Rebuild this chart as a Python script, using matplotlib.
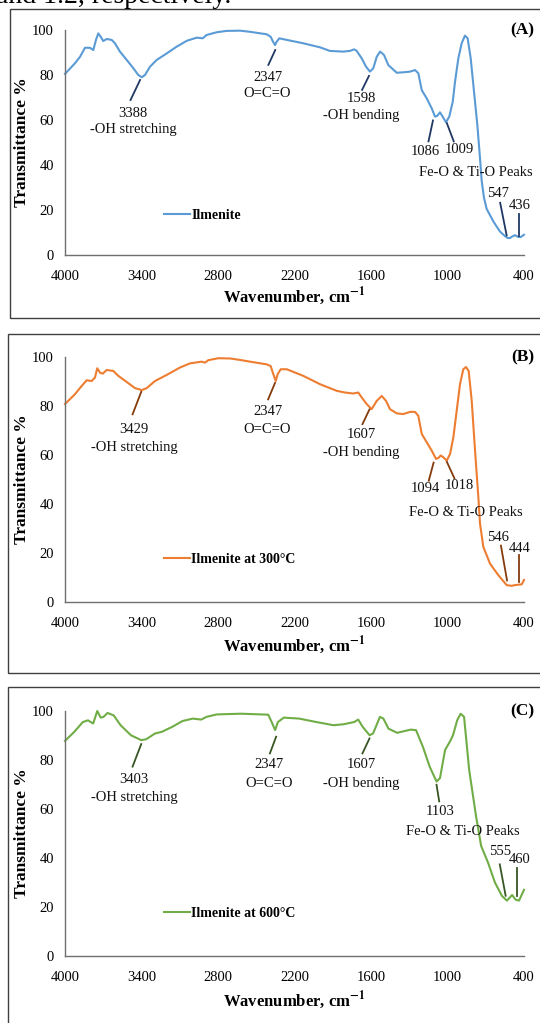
import matplotlib
matplotlib.use("Agg")
import matplotlib.pyplot as plt
from matplotlib.patches import Rectangle

plt.rcParams['font.family'] = ['Liberation Serif', 'DejaVu Serif']
plt.rcParams['mathtext.fontset'] = 'stix'

# ---------------- data ----------------
x_ticks = [4000, 3400, 2800, 2200, 1600, 1000, 400]
y_ticks = [0, 20, 40, 60, 80, 100]

wn_A = [4000, 3922, 3882, 3843, 3804, 3778, 3757, 3739, 3720, 3700, 3673, 3634, 3608,
        3569, 3516, 3464, 3425, 3398, 3373, 3333, 3281, 3202, 3124, 3045, 2967, 2920,
        2889, 2810, 2732, 2627, 2549, 2418, 2387, 2371, 2353, 2340, 2319, 2261, 2131,
        2000, 1922, 1817, 1765, 1733, 1712, 1673, 1639, 1608, 1582, 1555, 1529, 1498,
        1464, 1398, 1347, 1294, 1255, 1229, 1202, 1163, 1124, 1098, 1080, 1059, 1038,
        1012, 986, 959, 941, 915, 889, 863, 842, 818, 792, 766, 745, 732, 714, 693,
        660, 641, 614, 588, 549, 530, 510, 497, 471, 445, 425, 400]
t_A = [80.5, 85.2, 88.1, 92.1, 92.1, 91.1, 95.6, 98.5, 97.0, 95.1, 96.0, 95.6, 94.1,
       90.4, 86.7, 83.0, 80.0, 79.0, 80.0, 83.7, 86.7, 89.6, 92.6, 95.2, 96.6, 96.3,
       97.8, 99.0, 99.6, 99.7, 99.2, 98.1, 97.0, 95.1, 93.3, 94.8, 96.3, 95.6, 94.1,
       92.3, 90.7, 90.4, 90.7, 91.4, 90.7, 87.4, 83.7, 81.5, 83.0, 88.1, 90.4, 88.9,
       84.4, 81.0, 81.2, 81.5, 82.2, 80.8, 73.3, 69.6, 65.2, 61.5, 61.9, 63.4, 61.5,
       59.0, 61.5, 68.1, 77.0, 87.4, 94.1, 97.5, 96.3, 87.4, 72.6, 57.8, 43.0, 33.0,
       25.5, 20.5, 17.0, 15.0, 12.6, 10.4, 8.4, 7.6, 7.5, 8.1, 8.8, 8.0, 8.0, 9.0]

wn_B = [4000, 3922, 3869, 3830, 3791, 3765, 3747, 3725, 3704, 3673, 3621, 3582, 3516,
        3451, 3398, 3359, 3294, 3202, 3098, 3020, 2928, 2902, 2876, 2798, 2706, 2627,
        2549, 2418, 2387, 2366, 2347, 2332, 2308, 2261, 2131, 2000, 1869, 1804, 1739,
        1700, 1673, 1634, 1595, 1555, 1516, 1482, 1451, 1398, 1347, 1294, 1255, 1229,
        1202, 1163, 1124, 1090, 1072, 1053, 1033, 1006, 980, 954, 928, 902, 876, 855,
        834, 810, 784, 758, 745, 719, 667, 602, 536, 497, 471, 418, 400]
t_B = [80.8, 84.8, 88.2, 90.5, 90.2, 91.6, 95.4, 93.6, 93.2, 94.7, 94.3, 92.3, 89.8,
       87.3, 86.5, 87.3, 90.2, 92.7, 95.7, 97.4, 98.1, 97.7, 98.7, 99.5, 99.4, 98.8,
       98.1, 97.0, 96.3, 93.0, 90.2, 93.0, 95.0, 95.0, 92.3, 88.9, 86.2, 85.5, 85.1,
       85.5, 83.5, 80.8, 78.7, 82.1, 84.1, 82.1, 78.7, 77.0, 76.7, 77.6, 77.6, 76.0,
       68.6, 65.2, 61.8, 58.4, 58.8, 59.8, 59.1, 57.7, 60.4, 67.2, 78.0, 88.9, 95.0,
       95.9, 94.3, 82.1, 61.8, 42.8, 32.0, 22.5, 15.7, 11.0, 6.9, 6.6, 6.9, 7.2, 9.0]

wn_C = [4000, 3927, 3860, 3820, 3779, 3747, 3720, 3698, 3666, 3618, 3564, 3483, 3402,
        3362, 3295, 3241, 3160, 3079, 2998, 2931, 2891, 2810, 2621, 2406, 2379, 2352,
        2330, 2284, 2163, 2029, 1894, 1813, 1732, 1700, 1665, 1611, 1584, 1530, 1503,
        1463, 1395, 1288, 1247, 1193, 1140, 1086, 1059, 1019, 978, 957, 924, 897, 870,
        830, 776, 736, 682, 628, 574, 534, 493, 466, 439, 400]
t_C = [87.8, 91.5, 95.5, 96.2, 94.9, 100.0, 97.3, 97.6, 99.2, 98.2, 94.2, 90.1, 88.1,
       88.5, 90.8, 91.5, 93.5, 95.9, 96.9, 96.5, 97.6, 98.6, 98.9, 98.5, 95.5, 92.2,
       95.5, 97.3, 96.9, 95.5, 94.2, 94.6, 95.5, 96.5, 93.5, 90.1, 90.8, 97.6, 96.9,
       92.8, 91.1, 92.4, 92.2, 85.4, 77.3, 71.2, 72.6, 84.1, 87.8, 90.1, 96.2, 98.9,
       97.6, 75.9, 57.0, 44.9, 38.1, 30.0, 24.6, 22.6, 24.9, 23.0, 22.6, 27.0]

series_names = ["Ilmenite", "Ilmenite at 300\u00b0C", "Ilmenite at 600\u00b0C"]
panel_tags = ["(A)", "(B)", "(C)"]
peak_labels_A = ["3388", "2347", "1598", "1086", "1009", "547", "436"]
peak_labels_B = ["3429", "2347", "1607", "1094", "1018", "546", "444"]
peak_labels_C = ["3403", "2347", "1607", "1103", "555", "460"]
group_labels = ["-OH stretching", "O=C=O", "-OH bending", "Fe-O & Ti-O Peaks"]

line_colors = ["#5B9BD5", "#ED7D31", "#70AD47"]
mark_colors = ["#1F3864", "#843C0C", "#375623"]

# ---------------- figure ----------------
W, H = 540, 1023
fig = plt.figure(figsize=(W / 100, H / 100), dpi=100)


def fx(px):
    return px / W


def fy(py):
    return 1 - py / H


# top cut-off text line of the page
fig.text(fx(-4), fy(3), "and 1.2, respectively.", fontsize=20, va='baseline', ha='left')

# panel frames
for (x0, y0, x1, y1) in [(10, 9, 548, 318), (8, 334, 548, 673), (8, 687, 548, 1035)]:
    fig.patches.append(Rectangle((fx(x0), fy(y1)), (x1 - x0) / W, (y1 - y0) / H,
                                 transform=fig.transFigure, fill=False,
                                 edgecolor='#404040', linewidth=1.0))

panels = [(30, 255, 296, 22), (357, 602, 645, 22), (711, 956, 1000, 22)]


def make_axes(top, bottom):
    ax = fig.add_axes([fx(65), fy(bottom), (524 - 65) / W, (bottom - top) / H])
    ax.set_xlim(4000, 400)
    ax.set_ylim(0, 100)
    for s in ['top', 'right']:
        ax.spines[s].set_visible(False)
    for s in ['left', 'bottom']:
        ax.spines[s].set_color('#6f6f6f')
        ax.spines[s].set_linewidth(1.0)
    ax.set_xticks(x_ticks)
    ax.set_yticks(y_ticks)
    ax.tick_params(axis='both', length=0, labelsize=10.5)
    ax.tick_params(axis='x', pad=11)
    ax.tick_params(axis='y', pad=8)
    ax.set_facecolor('none')
    return ax


def style_labels(ax, top, bottom, xlab_y):
    fig.text(fx(294), fy(xlab_y), r"Wavenumber, cm$^{\mathbf{-1}}$", fontsize=12,
             fontweight='bold', ha='center', va='center')
    fig.text(fx(22), fy((top + bottom) / 2), "Transmittance %", fontsize=12.5,
             fontweight='bold', ha='center', va='center', rotation=90)


def mark(ax, color, x0, y0, x1, y1):
    ax.plot([x0, x1], [y0, y1], color=color, lw=1.3, clip_on=False)


def label(ax, x, y, s, fs=10.5):
    ax.text(x, y, s, ha='center', va='center', fontsize=fs, color='#111111')


datasets = [(wn_A, t_A), (wn_B, t_B), (wn_C, t_C)]
axes = []
for i, ((top, bottom, xlab_y, _), (wn, t)) in enumerate(zip(panels, datasets)):
    ax = make_axes(top, bottom)
    ax.plot(wn, t, color=line_colors[i], lw=1.5, clip_on=False, label=series_names[i],
            solid_joinstyle='round')
    style_labels(ax, top, bottom, xlab_y)
    ax.text(1.023, 1.0, panel_tags[i], transform=ax.transAxes, ha='right', va='center',
            fontsize=12.5, fontweight='bold')
    leg = ax.legend(loc='center left', bbox_to_anchor=(0.215, 0.175), frameon=False,
                    borderpad=0, borderaxespad=0, handlelength=1.9, handletextpad=0.1,
                    prop={'weight': 'bold', 'size': 10})
    axes.append(ax)

# ---- annotations panel A ----
ax = axes[0]; c = mark_colors[0]; L = peak_labels_A
mark(ax, c, 3411, 77.8, 3486, 68.9)
label(ax, 3468, 63.1, L[0]); label(ax, 3468, 55.7, group_labels[0])
mark(ax, c, 2351, 91.1, 2405, 84.5)
label(ax, 2411, 79.0, L[1]); label(ax, 2411, 71.6, group_labels[1])
mark(ax, c, 1616, 79.6, 1670, 73.4)
label(ax, 1676, 69.4, L[2]); label(ax, 1676, 62.0, group_labels[2])
mark(ax, c, 1114, 59.8, 1149, 50.5)
mark(ax, c, 1005, 58.6, 951, 50.5)
label(ax, 1173, 46.1, L[3]); label(ax, 905, 46.8, L[4])
label(ax, 778, 36.8, group_labels[3])
mark(ax, c, 587, 23.2, 536, 8.7)
mark(ax, c, 441, 18.2, 441, 8.6)
label(ax, 603, 27.2, L[5]); label(ax, 433, 22.0, L[6])

# ---- annotations panel B ----
ax = axes[1]; c = mark_colors[1]; L = peak_labels_B
mark(ax, c, 3402, 85.8, 3470, 76.6)
label(ax, 3456, 70.5, L[0]); label(ax, 3456, 63.0, group_labels[0])
mark(ax, c, 2353, 89.4, 2407, 82.7)
label(ax, 2411, 77.6, L[1]); label(ax, 2411, 70.5, group_labels[1])
mark(ax, c, 1612, 78.6, 1667, 72.6)
label(ax, 1679, 68.4, L[2]); label(ax, 1679, 61.0, group_labels[2])
mark(ax, c, 1109, 56.9, 1147, 49.5)
mark(ax, c, 1005, 57.2, 946, 50.5)
label(ax, 1176, 46.5, L[3]); label(ax, 907, 47.7, L[4])
label(ax, 853, 36.6, group_labels[3])
mark(ax, c, 581, 23.0, 533, 8.8)
mark(ax, c, 442, 19.0, 442, 8.0)
label(ax, 603, 26.4, L[5]); label(ax, 432, 22.0, L[6])

# ---- annotations panel C ----
ax = axes[2]; c = mark_colors[2]; L = peak_labels_C
mark(ax, c, 3402, 86.5, 3470, 77.3)
label(ax, 3456, 72.2, L[0]); label(ax, 3456, 64.7, group_labels[0])
mark(ax, c, 2344, 89.5, 2393, 82.7)
label(ax, 2398, 78.0, L[1]); label(ax, 2398, 70.5, group_labels[1])
mark(ax, c, 1612, 88.8, 1667, 82.7)
label(ax, 1679, 78.0, L[2]); label(ax, 1679, 70.5, group_labels[2])
mark(ax, c, 1086, 69.9, 1065, 63.1)
label(ax, 1059, 59.1, L[3])
label(ax, 880, 50.7, group_labels[3])
mark(ax, c, 590, 37.4, 544, 24.6)
mark(ax, c, 455, 35.8, 455, 24.6)
label(ax, 590, 42.8, L[4]); label(ax, 436, 39.5, L[5])

fig.savefig("out.png", dpi=100)
